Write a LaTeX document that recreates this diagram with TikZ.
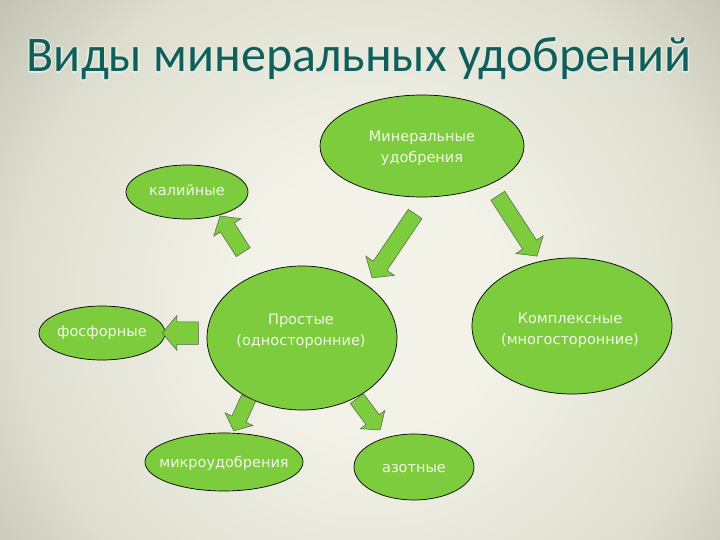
\documentclass[tikz,border=0pt]{standalone}
\usepackage{fontspec}
\setmainfont{DejaVu Sans}
\newfontfamily\titlefont{Carlito}
\usetikzlibrary{shapes.geometric,shapes.arrows}
\definecolor{leaf}{RGB}{125,204,62}
\definecolor{bgin}{RGB}{242,242,232}
\definecolor{bgq}{RGB}{222,222,208}
\definecolor{bgmid}{RGB}{172,172,156}
\definecolor{bgout}{RGB}{118,122,106}
\definecolor{titlecol}{RGB}{20,94,90}
\definecolor{glowcol}{RGB}{225,238,228}
\definecolor{txt}{RGB}{240,248,230}
\pgfdeclareradialshading{bgshade}{\pgfpoint{0bp}{0bp}}{color(0bp)=(bgin); color(7bp)=(bgin); color(19bp)=(bgq); color(31bp)=(bgmid); color(48bp)=(bgout); color(50bp)=(bgout)}
\begin{document}
\begin{tikzpicture}[x=1pt,y=-1pt,
  oval/.style={ellipse, draw=black, line width=0.7pt, fill=leaf, inner sep=0pt},
  lbl/.style={text=txt, font=\fontsize{14.5}{21}\selectfont, align=center, inner sep=0pt},
  barrow/.style={single arrow, draw=black!65, line width=0.5pt, fill=leaf, anchor=center, single arrow tip angle=100},
  ttl/.style={font=\titlefont\fontsize{50}{50}\selectfont, anchor=base, inner sep=0pt}
]
\useasboundingbox (0,0) rectangle (720,540);
\begin{scope}
  \clip (0,0) rectangle (720,540);
  \shade[shading=bgshade] (-100,-170) rectangle (840,770);
\end{scope}

% title with light halo
\foreach \dx/\dy [count=\i] in {1.1/0,-1.1/0,0/1.1,0/-1.1,0.8/0.8,-0.8/0.8,0.8/-0.8,-0.8/-0.8}
  \node[ttl, text=glowcol] (glow\i) at (359+\dx,72+\dy) {Виды минеральных удобрений};
\node[ttl, text=titlecol] (title) at (359,72) {Виды минеральных удобрений};

% ellipses
\node[oval, minimum width=204pt, minimum height=102pt] (mineral) at (422,146) {};
\node[oval, minimum width=122pt, minimum height=54pt] (kali) at (187,192) {};
\node[oval, minimum width=126pt, minimum height=54pt] (fosf) at (102,333) {};
\node[oval, minimum width=190pt, minimum height=144pt] (simple) at (302,338) {};
\node[oval, minimum width=200pt, minimum height=136pt] (complex) at (572,326) {};
\node[oval, minimum width=158pt, minimum height=58pt] (micro) at (224,462) {};
\node[oval, minimum width=120pt, minimum height=66pt] (azot) at (414,467) {};

% labels
\node[lbl] (tmineral) at (422,148) {Минеральные\\удобрения};
\node[lbl] (tkali) at (187,190) {калийные};
\node[lbl] (tfosf) at (102,333) {фосфорные};
\node[lbl] (tsimple) at (301,331) {Простые\\(односторонние)};
\node[lbl] (tcomplex) at (570,330) {Комплексные\\(многосторонние)};
\node[lbl] (tmicro) at (224,463) {микроудобрения};
\node[lbl] (tazot) at (414,469) {азотные};

% block arrows
\node[barrow, minimum height=77pt, minimum width=34pt, inner sep=8pt, single arrow head extend=9pt, rotate=236] (a1) at (395.5,243) {};
\node[barrow, minimum height=72pt, minimum width=32pt, inner sep=8pt, single arrow head extend=8pt, rotate=-57] (a2) at (515.5,223) {};
\node[barrow, minimum height=43pt, minimum width=32pt, inner sep=8pt, single arrow head extend=8pt, rotate=122.6] (a3) at (233.5,237) {};
\node[barrow, minimum height=36pt, minimum width=34pt, inner sep=11pt, single arrow head extend=6pt, rotate=180] (a4) at (185,333) {};
\node[barrow, minimum height=36pt, minimum width=30pt, inner sep=7.5pt, single arrow head extend=7.5pt, rotate=245.6] (a5) at (242.5,411.5) {};
\node[barrow, minimum height=39pt, minimum width=30pt, inner sep=8pt, single arrow head extend=7pt, rotate=-53.4] (a6) at (366.5,411.5) {};
\end{tikzpicture}
\end{document}
